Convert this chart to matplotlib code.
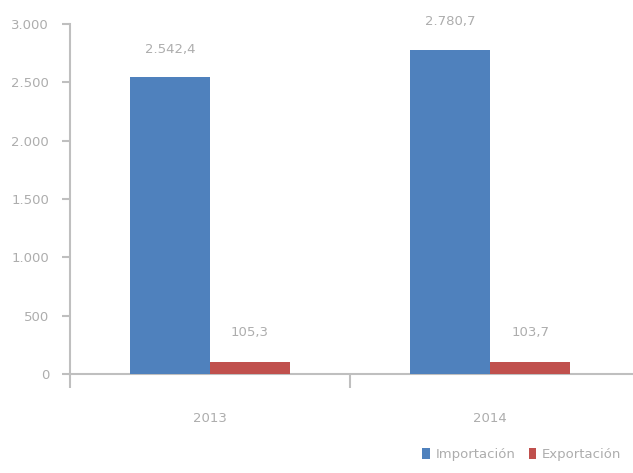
import matplotlib
matplotlib.use("Agg")
import matplotlib.pyplot as plt
import numpy as np

years = ["2013", "2014"]
series_names = ["Importación", "Exportación"]
series_a = [2542.4, 2780.7]
series_b = [105.3, 103.7]
label_a = ["2.542,4", "2.780,7"]
label_b = ["105,3", "103,7"]
yticks = [0, 500, 1000, 1500, 2000, 2500, 3000]
ytick_labels = ["0", "500", "1.000", "1.500", "2.000", "2.500", "3.000"]

blue = "#4F81BD"
red = "#C0504D"
txt = "#adadad"
axc = "#bfbfbf"
fs = 9.5

fig = plt.figure(figsize=(6.33, 4.73), dpi=100)
ax = fig.add_axes([70/633, (473-374)/473, (633-70)/633, (374-24)/473])

x = np.arange(len(years))
w = 0.2857
b1 = ax.bar(x - w/2, series_a, w, color=blue, label=series_names[0], zorder=3)
b2 = ax.bar(x + w/2, series_b, w, color=red, label=series_names[1], zorder=3)

for rect, lab in zip(b1, label_a):
    ax.annotate(lab, (rect.get_x() + rect.get_width()/2, rect.get_height()),
                xytext=(0, 20), textcoords="offset points", ha="center", va="center",
                fontsize=fs, color=txt)
for rect, lab in zip(b2, label_b):
    ax.annotate(lab, (rect.get_x() + rect.get_width()/2, rect.get_height()),
                xytext=(0, 21), textcoords="offset points", ha="center", va="center",
                fontsize=fs, color=txt)

ax.set_xlim(-0.5, 1.51)
ax.set_ylim(0, 3000)
ax.set_yticks(yticks)
ax.set_yticklabels(ytick_labels, fontsize=fs, color=txt)
ax.set_xticks([-0.5, 0.5])
ax.set_xticklabels(["", ""])
ax.set_xticks(x, minor=True)
ax.set_xticklabels(years, minor=True, fontsize=fs, color=txt)
ax.tick_params(axis="x", which="major", length=10, color=axc, width=1.5)
ax.tick_params(axis="x", which="minor", length=0, pad=27)
ax.tick_params(axis="y", length=6, color=axc, width=1.5, pad=9)

for s in ["top", "right"]:
    ax.spines[s].set_visible(False)
for s in ["left", "bottom"]:
    ax.spines[s].set_color(axc)
    ax.spines[s].set_linewidth(1.5)

leg = fig.legend(loc="lower right", bbox_to_anchor=(1.0, 0.0), ncol=2, frameon=False,
                 fontsize=fs, handlelength=0.6, handleheight=0.9, handletextpad=0.4,
                 columnspacing=1.0)
for t in leg.get_texts():
    t.set_color(txt)

fig.savefig("out.png", dpi=100)
